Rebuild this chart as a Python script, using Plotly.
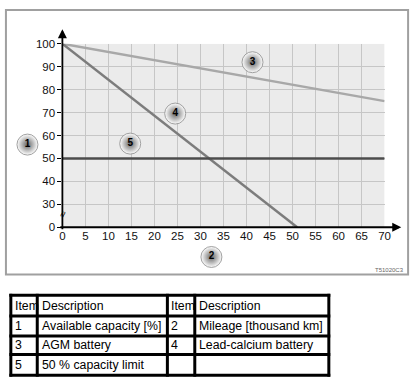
import plotly.graph_objects as go

W, H = 418, 388

# ---- data ----
mileage_agm = [0, 70]
capacity_agm = [100, 75]
mileage_pbca = [0, 51]
capacity_pbca = [100, 0]
mileage_limit = [0, 70]
capacity_limit = [50, 50]

x_ticks = list(range(0, 71, 5))
y_tick_values = [0, 30, 40, 50, 60, 70, 80, 90, 100]

callout_labels = ["1", "2", "3", "4", "5"]
callout_x_px = [25, 213, 255, 176, 130]
callout_y_px = [143, 259, 58, 111, 142]

table_header = ["Item", "Description", "Item", "Description"]
table_item_left = ["1", "3", "5"]
table_desc_left = ["Available capacity [%]", "AGM battery", "50 % capacity limit"]
table_item_right = ["2", "4", ""]
table_desc_right = ["Mileage [thousand km]", "Lead-calcium battery", ""]


def axis_y(v):
    # broken y axis: values below 30 are compressed into the 20..30 band
    return v if v >= 30 else 20 + v / 3


FONT = "Arial, Liberation Sans, Helvetica, sans-serif"

fig = go.Figure()

fig.add_trace(go.Scatter(x=mileage_agm, y=[axis_y(v) for v in capacity_agm], mode="lines",
                         line=dict(color="#a8a8a8", width=2.5), hoverinfo="skip"))
fig.add_trace(go.Scatter(x=mileage_pbca, y=[axis_y(v) for v in capacity_pbca], mode="lines",
                         line=dict(color="#7c7c7c", width=2.5), hoverinfo="skip"))
fig.add_trace(go.Scatter(x=mileage_limit, y=[axis_y(v) for v in capacity_limit], mode="lines",
                         line=dict(color="#4c4c4c", width=2.5), hoverinfo="skip"))

# callouts on pixel overlay
fig.add_trace(go.Scatter(x=callout_x_px, y=callout_y_px, xaxis="x2", yaxis="y2",
                         mode="markers+text", text=["<b>%s</b>" % s for s in callout_labels],
                         textposition="middle center",
                         textfont=dict(family=FONT, size=10, color="black"),
                         marker=dict(size=21, color="#ffffff",
                                     gradient=dict(type="radial", color="#666666"),
                                     line=dict(color="#8a8a8a", width=0.8)),
                         hoverinfo="skip", cliponaxis=False))

shapes = []
# grey plot background
shapes.append(dict(type="rect", xref="x", yref="y", x0=0, x1=70, y0=axis_y(0), y1=100,
                   fillcolor="#ebebeb", line=dict(width=0), layer="below"))
# outer frame
shapes.append(dict(type="rect", xref="x2", yref="y2", x0=3, x1=414, y0=4, y1=277,
                   line=dict(color="#a0a0a0", width=2), fillcolor="rgba(0,0,0,0)"))
# table
tx = [8, 35, 168, 196, 333]
ty = [298.5, 320, 340.5, 359.5, 381]
for xv in tx:
    shapes.append(dict(type="line", xref="x2", yref="y2", x0=xv, x1=xv, y0=ty[0] - 1.5, y1=ty[-1] + 1.5,
                       line=dict(color="black", width=3)))
for yv in ty:
    shapes.append(dict(type="line", xref="x2", yref="y2", x0=tx[0] - 1.5, x1=tx[-1] + 1.5, y0=yv, y1=yv,
                       line=dict(color="black", width=3)))

annotations = []
# axis arrows
annotations.append(dict(xref="x2", yref="y2", axref="x2", ayref="y2", x=60.7, y=24, ax=60.7, ay=232,
                        text="", showarrow=True, arrowhead=2, arrowsize=1, arrowwidth=1.8, arrowcolor="black"))
annotations.append(dict(xref="x2", yref="y2", axref="x2", ayref="y2", x=407, y=228.3, ax=57, ay=228.3,
                        text="", showarrow=True, arrowhead=2, arrowsize=1, arrowwidth=1.8, arrowcolor="black"))
# axis break mark
annotations.append(dict(xref="x2", yref="y2", x=61, y=215, text="≈", showarrow=False,
                        textangle=-70, font=dict(family=FONT, size=11, color="black")))
# drawing code
annotations.append(dict(xref="x2", yref="y2", x=412, y=272, text="T51020C3", showarrow=False,
                        xanchor="right", yanchor="middle", font=dict(family=FONT, size=6, color="#666")))

# table text
text_x = [tx[0] + 2, tx[1] + 2.5, tx[2] + 2, tx[3] + 2.5]
row_y = [(ty[i] + ty[i + 1]) / 2 for i in range(4)]
rows = [table_header] + [[table_item_left[i], table_desc_left[i], table_item_right[i], table_desc_right[i]]
                         for i in range(3)]
for r, row in enumerate(rows):
    for c, txt in enumerate(row):
        if txt:
            annotations.append(dict(xref="x2", yref="y2", x=text_x[c], y=row_y[r], text=txt,
                                    showarrow=False, xanchor="left", yanchor="middle",
                                    font=dict(family=FONT, size=12.3, color="black")))

fig.update_layout(
    width=W, height=H,
    margin=dict(l=0, r=0, t=0, b=0),
    paper_bgcolor="white", plot_bgcolor="rgba(0,0,0,0)",
    showlegend=False,
    xaxis=dict(domain=[60.7 / W, 390 / W], range=[0, 70], tickvals=x_ticks,
               showgrid=True, gridcolor="#c6c6c6", gridwidth=1, zeroline=False, showline=False,
               ticks="", tickfont=dict(family=FONT, size=11.5, color="#111"), fixedrange=True),
    yaxis=dict(domain=[1 - 228.3 / H, 1 - 39 / H], range=[20, 100],
               tickvals=[axis_y(v) for v in y_tick_values], ticktext=[str(v) for v in y_tick_values],
               showgrid=True, gridcolor="#c6c6c6", gridwidth=1, zeroline=False, showline=False,
               ticks="outside", ticklen=4, tickwidth=1.2, tickcolor="black",
               tickfont=dict(family=FONT, size=11.5, color="#111"), fixedrange=True),
    xaxis2=dict(domain=[0, 1], range=[0, W], visible=False, anchor="y2", fixedrange=True),
    yaxis2=dict(domain=[0, 1], range=[H, 0], visible=False, anchor="x2", fixedrange=True),
    shapes=shapes,
    annotations=annotations,
)

fig.write_html("out.html", config={"displayModeBar": False},
               post_script="document.body.style.margin='0';document.body.style.overflow='hidden';")
